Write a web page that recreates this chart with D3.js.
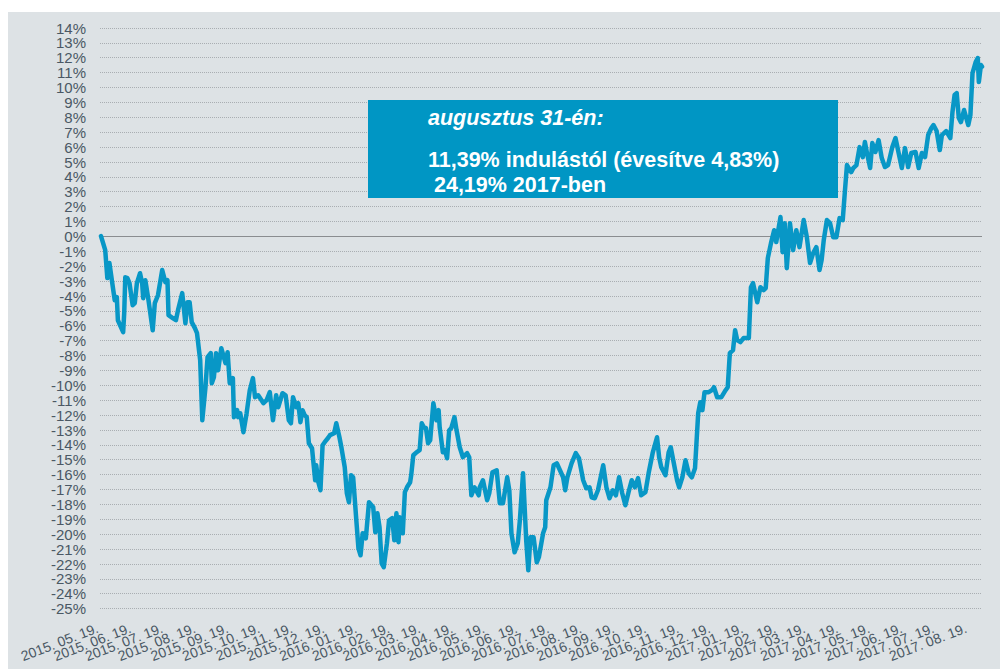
<!DOCTYPE html>
<html>
<head>
<meta charset="utf-8">
<script src="https://cdn.jsdelivr.net/npm/d3@7"></script>
<style>
  html, body { margin: 0; padding: 0; background: #ffffff; }
  svg { display: block; }
  text { font-family: "Liberation Sans", Arial, sans-serif; }
</style>
</head>
<body>
<svg id="chart" width="1000" height="669"></svg>
<script>
// ---- data ----
const startDate = "2015-05-19";
const endDate = "2017-08-31";
// days since start date for each observation
const dayOffsets = [0,4,6,8,10,13,15,16,21,22,23,25,27,30,32,34,37,39,40,42,45,49,51,54,58,61,63,64,68,71,73,77,80,82,84,86,89,91,94,96,99,101,104,105,107,109,111,114,118,120,122,125,126,129,130,132,135,138,141,144,146,149,154,157,160,163,166,168,170,172,175,178,180,182,185,187,189,191,193,195,197,200,203,204,206,208,210,212,215,217,221,223,226,228,231,233,235,237,239,242,244,246,248,251,254,258,260,262,264,266,268,271,273,276,278,280,282,283,286,288,290,293,294,296,299,302,304,306,308,310,312,315,318,320,321,324,326,328,330,332,335,337,340,343,347,349,351,354,358,359,362,366,368,371,375,378,381,385,387,389,392,395,397,400,403,405,407,410,413,415,419,421,422,426,429,432,435,438,440,442,446,450,453,457,460,463,465,468,471,476,479,482,485,488,491,494,497,500,503,506,509,512,516,519,523,527,529,531,535,538,540,542,546,548,551,554,557,560,563,566,568,570,572,576,579,581,584,588,592,594,596,599,601,603,606,609,614,616,618,622,625,628,630,632,635,638,640,644,646,648,650,653,656,659,662,666,669,672,675,678,681,683,685,688,691,694,697,700,703,705,707,711,713,716,719,722,724,726,729,731,734,737,740,743,746,750,753,756,759,762,765,768,772,775,778,781,784,787,789,792,795,797,801,805,807,809,811,813,815,818,822,824,826,829,831,832,834,835];
// cumulative return, %
const values = [0,-0.94,-2.82,-1.81,-2.82,-4.30,-4.10,-5.65,-6.45,-5.17,-2.76,-2.82,-3.16,-4.64,-4.50,-3.16,-2.49,-3.16,-4.17,-2.96,-4.30,-6.32,-4.50,-3.97,-2.28,-3.09,-2.96,-5.31,-5.51,-5.65,-4.97,-3.83,-5.85,-4.44,-4.44,-5.78,-6.18,-6.52,-8.33,-12.37,-10.15,-8.13,-7.86,-9.88,-9.48,-7.86,-9.01,-7.53,-8.53,-7.80,-9.88,-9.54,-12.16,-11.69,-12.16,-11.90,-13.17,-11.90,-10.35,-9.54,-10.82,-10.69,-11.22,-11.02,-10.48,-12.37,-10.69,-11.49,-11.02,-10.55,-10.69,-12.37,-12.57,-10.82,-11.49,-11.22,-12.50,-11.69,-12.03,-12.16,-13.91,-14.25,-16.40,-15.39,-16.53,-17.07,-14.05,-13.84,-13.58,-13.37,-13.24,-12.57,-13.51,-14.25,-15.52,-17.27,-17.88,-16.06,-16.20,-19.09,-20.97,-21.44,-19.96,-20.30,-17.88,-18.21,-19.89,-18.62,-19.56,-21.98,-22.24,-20.63,-19.09,-18.95,-20.43,-18.62,-20.56,-18.88,-19.96,-17.20,-16.87,-16.53,-16.06,-14.72,-14.52,-14.38,-12.57,-12.84,-12.90,-13.91,-13.71,-11.22,-12.37,-11.69,-12.84,-14.52,-14.38,-14.92,-13.04,-12.90,-12.16,-13.04,-14.18,-14.85,-14.58,-14.85,-17.41,-16.87,-17.41,-16.87,-16.40,-17.74,-17.27,-15.86,-15.73,-17.94,-17.94,-16.20,-17.07,-19.96,-21.24,-20.63,-19.09,-15.93,-20.43,-22.45,-20.23,-20.23,-21.91,-21.57,-19.96,-19.56,-17.74,-16.87,-15.39,-15.26,-15.73,-16.20,-17.07,-16.20,-15.26,-14.58,-14.92,-16.40,-16.94,-16.87,-17.54,-17.61,-17.07,-15.39,-16.87,-17.61,-17.07,-17.41,-16.20,-17.27,-18.08,-17.20,-16.40,-16.87,-16.26,-17.41,-17.20,-15.93,-14.52,-13.51,-14.85,-15.52,-16.06,-14.52,-14.18,-14.92,-16.40,-16.87,-16.20,-15.05,-15.93,-16.20,-15.59,-11.90,-11.16,-11.69,-10.48,-10.48,-10.35,-10.15,-10.82,-10.82,-10.35,-10.15,-7.86,-7.66,-6.32,-6.99,-7.12,-6.85,-6.85,-3.43,-3.16,-4.44,-3.43,-3.63,-3.49,-1.48,-0.47,0.40,-0.40,1.28,-1.08,0.87,-2.15,0.87,-0.94,0.40,-0.74,1.08,-0.07,-1.81,-1.14,-0.74,-2.28,-1.61,-0.27,1.08,0.87,-0.07,-0.07,1.21,1.08,2.96,4.77,4.30,4.57,4.77,5.98,5.31,6.32,5.58,4.57,6.25,5.65,6.45,5.24,4.64,4.77,5.98,6.59,5.58,4.57,5.91,4.64,5.58,5.65,4.57,5.58,5.31,6.79,7.26,7.46,7.06,5.78,6.79,7.06,6.59,8.33,9.48,9.61,7.93,7.66,8.47,7.46,8.13,10.95,11.69,11.96,10.35,11.49,11.39];
const yTickValues = [14,13,12,11,10,9,8,7,6,5,4,3,2,1,0,-1,-2,-3,-4,-5,-6,-7,-8,-9,-10,-11,-12,-13,-14,-15,-16,-17,-18,-19,-20,-21,-22,-23,-24,-25];
const tickLabels = ["2015. 05. 19.","2015. 06. 19.","2015. 07. 19.","2015. 08. 19.","2015. 09. 19.","2015. 10. 19.","2015. 11. 19.","2015. 12. 19.","2016. 01. 19.","2016. 02. 19.","2016. 03. 19.","2016. 04. 19.","2016. 05. 19.","2016. 06. 19.","2016. 07. 19.","2016. 08. 19.","2016. 09. 19.","2016. 10. 19.","2016. 11. 19.","2016. 12. 19.","2017. 01. 19.","2017. 02. 19.","2017. 03. 19.","2017. 04. 19.","2017. 05. 19.","2017. 06. 19.","2017. 07. 19.","2017. 08. 19."];
const boxTitle = "augusztus 31-én:";
const boxLines = ["11,39% indulástól (évesítve 4,83%)", " 24,19% 2017-ben"];

// ---- build ----
const parseISO = d3.utcParse("%Y-%m-%d");
const parseLabel = d3.utcParse("%Y. %m. %d.");
const t0 = parseISO(startDate);
const series = dayOffsets.map((d, i) => ({ date: d3.utcDay.offset(t0, d), v: values[i] }));

const svg = d3.select("#chart");
const W = 1000, H = 669;

svg.append("rect").attr("x", 8).attr("y", 12).attr("width", W - 8).attr("height", H - 12)
  .attr("fill", "#dde2e5");

const x = d3.scaleUtc().domain([t0, parseISO(endDate)]).range([101, 982]);
const y = d3.scaleLinear().domain([-25, 14]).range([608.3, 27.7]);

// gridlines
const grid = svg.append("g");
grid.selectAll("line").data(yTickValues.filter(v => v !== 0)).join("line")
  .attr("x1", 100).attr("x2", 982)
  .attr("y1", d => Math.round(y(d)) + 0.5).attr("y2", d => Math.round(y(d)) + 0.5)
  .attr("stroke", "#a9aeb2").attr("stroke-width", 1).attr("stroke-dasharray", "1,1");
svg.append("line").attr("x1", 100).attr("x2", 982)
  .attr("y1", Math.round(y(0)) + 0.5).attr("y2", Math.round(y(0)) + 0.5)
  .attr("stroke", "#8a8d90").attr("stroke-width", 1.2);

// y axis labels
const yAxis = d3.axisLeft(y).tickValues(yTickValues).tickSize(0).tickPadding(0)
  .tickFormat(d => d + "%");
const gy = svg.append("g").attr("transform", "translate(86,0)").call(yAxis);
gy.select(".domain").remove();
gy.selectAll("text").attr("fill", "#4a5864").attr("font-size", 15)
  .attr("font-family", "Liberation Sans, Arial, sans-serif").attr("dy", "0.36em");

// x axis labels
const xg = svg.append("g");
xg.selectAll("text").data(tickLabels).join("text")
  .attr("transform", d => `translate(${x(parseLabel(d)) - 1.5},632) rotate(-21)`)
  .attr("text-anchor", "end").attr("fill", "#4a5864").attr("font-size", 14)
  .text(d => d);

// line
const line = d3.line().x(d => x(d.date)).y(d => y(d.v));
svg.append("path").datum(series).attr("d", line)
  .attr("fill", "none").attr("stroke", "#0897c6").attr("stroke-width", 4.5)
  .attr("stroke-linejoin", "round").attr("stroke-linecap", "round");

// annotation box
svg.append("rect").attr("x", 368).attr("y", 100).attr("width", 470).attr("height", 98)
  .attr("fill", "#0096c4");
svg.append("text").attr("x", 428).attr("y", 125).attr("fill", "#fff")
  .attr("font-size", 21.5).attr("font-weight", "bold").attr("font-style", "italic")
  .text(boxTitle);
svg.append("text").attr("x", 428).attr("y", 167).attr("fill", "#fff")
  .attr("font-size", 21.5).attr("font-weight", "bold").style("white-space", "pre")
  .text(boxLines[0]);
svg.append("text").attr("x", 428).attr("y", 192).attr("fill", "#fff")
  .attr("font-size", 21.5).attr("font-weight", "bold").style("white-space", "pre")
  .text(boxLines[1]);
</script>
</body>
</html>
